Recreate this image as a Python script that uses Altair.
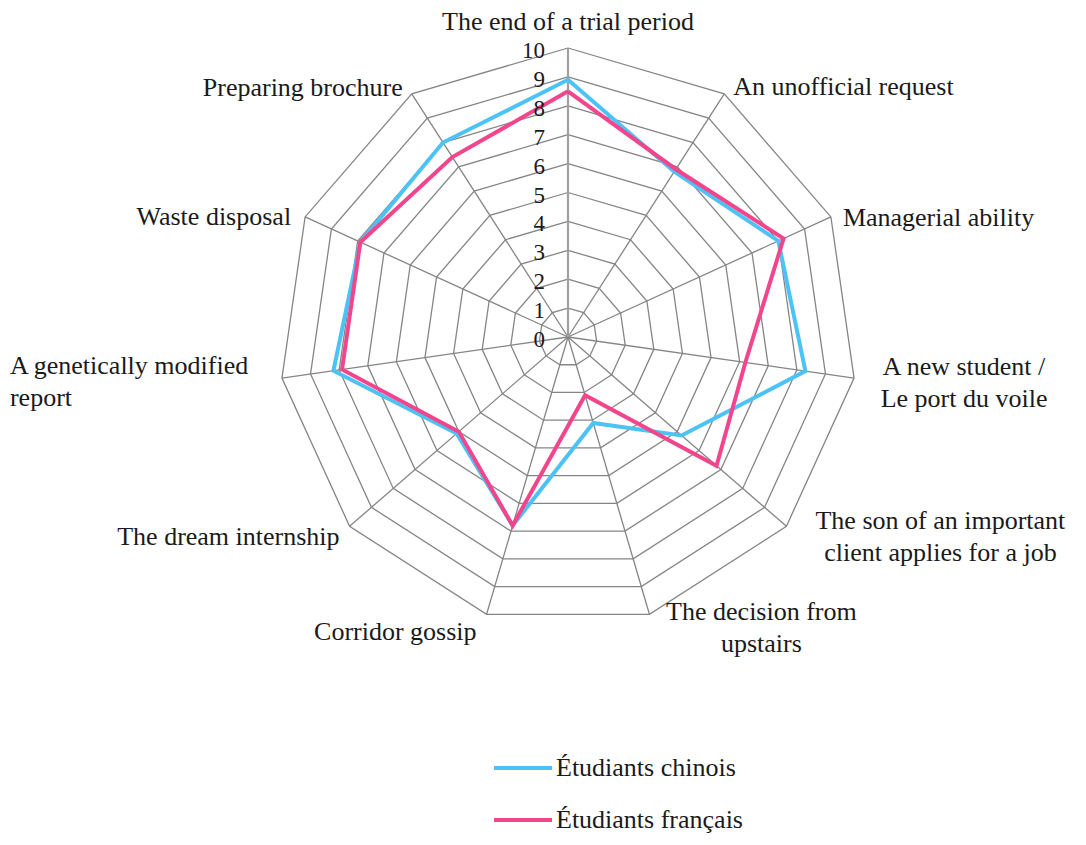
import altair as alt
import pandas as pd

categories = [
    "The end of a trial period",
    "An unofficial request",
    "Managerial ability",
    "A new student /\nLe port du voile",
    "The son of an important\nclient applies for a job",
    "The decision from\nupstairs",
    "Corridor gossip",
    "The dream internship",
    "A genetically modified\nreport",
    "Waste disposal",
    "Preparing brochure",
]
chinois = [8.9, 6.8, 8.0, 8.3, 5.2, 3.1, 6.8, 5.1, 8.2, 7.9, 8.0]
francais = [8.5, 6.9, 8.2, 6.2, 6.8, 2.1, 6.8, 5.0, 7.9, 7.9, 7.4]
series_names = ["Étudiants chinois", "Étudiants français"]
series_colors = ["#4DC2F6", "#F2458B"]
tick_values = list(range(0, 11))
r_max = 10

N = len(categories)
FONT = "Liberation Serif"
W, H = 1070, 829
UNIT = 28.9           # pixels per value unit
CX, CY = 560, 329     # centre inside the plot area (pixels)
XMIN = -CX / UNIT
XMAX = XMIN + W / UNIT
YMAX = CY / UNIT
YMIN = YMAX - H / UNIT

xs = alt.Scale(domain=[XMIN, XMAX], nice=False, zero=False)
ys = alt.Scale(domain=[YMIN, YMAX], nice=False, zero=False)

theta = f"2*PI*datum.idx/{N}"

# series data (closed loop)
rows = []
for name, vals in zip(series_names, [chinois, francais]):
    for i in range(N + 1):
        rows.append({"series": name, "idx": i, "value": vals[i % N]})
series_df = pd.DataFrame(rows)

grid_df = pd.DataFrame([{"level": l, "idx": i, "value": l}
                        for l in tick_values[1:] for i in range(N + 1)])
spoke_df = pd.DataFrame({"idx": list(range(N)), "value": [r_max] * N})
label_df = pd.DataFrame({"idx": list(range(N)), "value": [r_max] * N, "cat": categories})
tick_df = pd.DataFrame({"level": tick_values, "txt": [str(t) for t in tick_values]})

def polar(ch):
    return ch.transform_calculate(
        x=f"datum.value*sin({theta})", y=f"datum.value*cos({theta})")

X = alt.X("x:Q", scale=xs, axis=None)
Y = alt.Y("y:Q", scale=ys, axis=None)

grid = polar(alt.Chart(grid_df).mark_line(color="#858585", strokeWidth=1.3)).encode(
    x=X, y=Y, detail="level:N", order="idx:Q")

spokes = polar(alt.Chart(spoke_df).mark_rule(color="#858585", strokeWidth=1.3)).transform_calculate(
    x0="0", y0="0").encode(
    x=alt.X("x0:Q", scale=xs, axis=None), y=alt.Y("y0:Q", scale=ys, axis=None),
    x2="x:Q", y2="y:Q")

vaxis = polar(alt.Chart(spoke_df).transform_filter("datum.idx == 0").mark_rule(
    color="#a0a0a0", strokeWidth=2.2)).transform_calculate(x0="0", y0="0").encode(
    x=alt.X("x0:Q", scale=xs, axis=None), y=alt.Y("y0:Q", scale=ys, axis=None),
    x2="x:Q", y2="y:Q")

lines = polar(alt.Chart(series_df).mark_line(strokeWidth=4, strokeJoin="miter")).encode(
    x=X, y=Y, order="idx:Q",
    color=alt.Color("series:N",
                    scale=alt.Scale(domain=series_names, range=series_colors),
                    legend=alt.Legend(orient="none", legendX=484, legendY=729, title=None,
                                      symbolType="stroke", symbolStrokeWidth=4,
                                      symbolSize=3364, labelFont=FONT, labelFontSize=26,
                                      labelColor="#1a1a1a", labelLimit=400,
                                      labelOffset=2, rowPadding=8, direction="vertical")))

ticks = alt.Chart(tick_df).transform_calculate(x0="0").mark_text(
    font=FONT, fontSize=23, color="#1a1a1a", align="right", baseline="middle",
    dx=-23, dy=3).encode(
    x=alt.X("x0:Q", scale=xs, axis=None), y=alt.Y("level:Q", scale=ys, axis=None), text="txt:N")

# label placement styles: (align, dx, dy)
label_styles = [
    ("center", 0, -26), ("left", 9, -7), ("left", 12, 1), ("center", 110, -11),
    ("center", 154, -5), ("center", 112, -2), ("right", -10, 18), ("right", -10, 11),
    ("left", -272, -12), ("right", -14, 0), ("right", -9, -6),
]
label_layers = []
for i, (al, dx, dy) in enumerate(label_styles):
    label_layers.append(
        polar(alt.Chart(label_df).transform_filter(f"datum.idx == {i}").mark_text(
            font=FONT, fontSize=26, color="#1a1a1a", align=al, baseline="middle",
            dx=dx, dy=dy, lineBreak="\n", lineHeight=32)).encode(x=X, y=Y, text="cat:N"))

chart = alt.layer(grid, spokes, vaxis, lines, ticks, *label_layers).properties(
    width=W, height=H, padding=0, autosize=alt.AutoSizeParams(type="none")
).configure_view(stroke=None)

chart.save("out.html", embed_options={"renderer": "svg", "actions": False})
